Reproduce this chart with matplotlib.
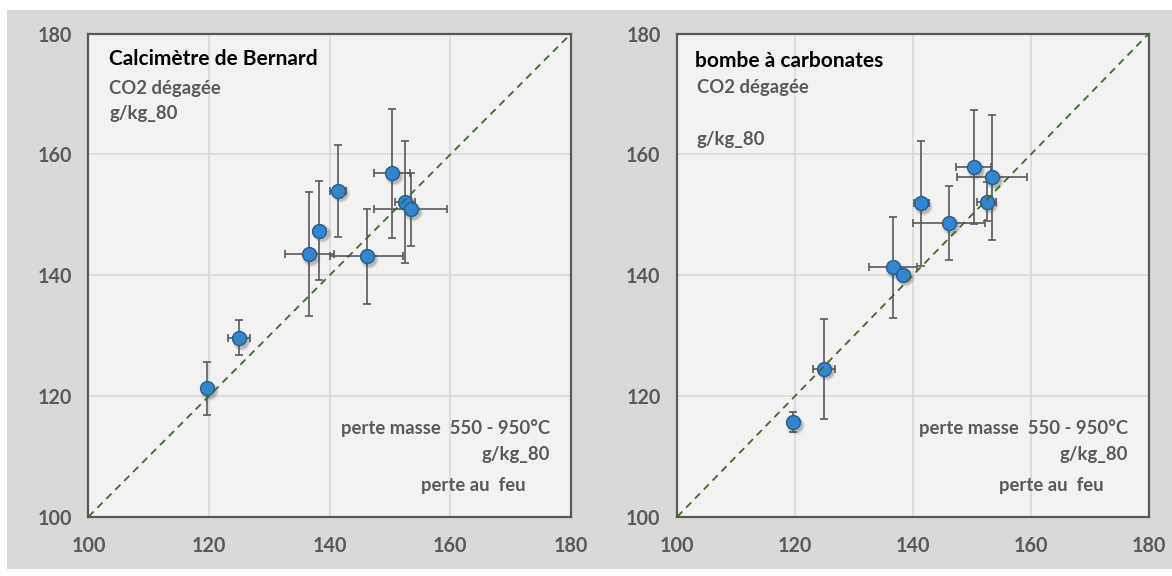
import numpy as np
import matplotlib.pyplot as plt
from matplotlib.patches import Rectangle

plt.rcParams['font.family'] = ['Lato', 'DejaVu Sans']

# perte au feu (g/kg_80), common to both panels
perte_feu = [119.7, 124.9, 136.6, 138.3, 141.4, 146.1, 150.3, 152.5, 153.4]
perte_feu_err = [0.0, 1.8, 4.1, 0.0, 1.3, 6.1, 3.0, 1.6, 6.0]

# CO2 dégagée, calcimètre de Bernard
bernard = [121.3, 129.6, 143.5, 147.4, 154.0, 143.1, 156.9, 152.2, 150.9]
bernard_err = [4.4, 2.9, 10.2, 8.2, 7.6, 7.8, 10.7, 10.1, 6.0]

# CO2 dégagée, bombe à carbonates
bombe = [115.7, 124.5, 141.3, 140.1, 151.9, 148.6, 157.9, 152.2, 156.2]
bombe_err = [1.7, 8.3, 8.4, 0.0, 10.3, 6.1, 9.4, 3.3, 10.4]

ticks = [100, 120, 140, 160, 180]

grey_txt = '#595959'

fig = plt.figure(figsize=(11.72, 5.76), dpi=100)
fig.patch.set_facecolor('white')
fig.patches.append(Rectangle((7 / 1172, 7 / 576), 1 - 7 / 1172, 1 - 17 / 576,
                             transform=fig.transFigure, facecolor='#d9d9d9',
                             edgecolor='none', zorder=-10))

panels = [
    dict(rect=[0.0755, 0.103, 0.4117, 0.8385], y=bernard, yerr=bernard_err,
         title='Calcimètre de Bernard', tx=0.043, ty=0.936, cx=0.043,
         co2y=0.876, unity=0.824),
    dict(rect=[0.5779, 0.103, 0.4022, 0.8385], y=bombe, yerr=bombe_err,
         title='bombe à carbonates', tx=0.0375, ty=0.932, cx=0.041,
         co2y=0.877, unity=0.770),
]

for p in panels:
    ax = fig.add_axes(p['rect'])
    ax.set_facecolor('#f2f2f2')
    ax.set_xlim(100, 180)
    ax.set_ylim(100, 180)
    ax.set_xticks(ticks)
    ax.set_yticks(ticks)
    ax.grid(True, color='#d9d9d9', linewidth=1.2)
    ax.set_axisbelow(True)
    for s in ax.spines.values():
        s.set_color('#595959')
        s.set_linewidth(1.6)
    ax.tick_params(length=0, labelsize=14.2, labelcolor=grey_txt)
    ax.tick_params(axis='x', pad=14)
    ax.tick_params(axis='y', pad=12)
    for lab in ax.get_xticklabels() + ax.get_yticklabels():
        lab.set_fontweight('bold')

    ax.errorbar(perte_feu, p['y'], xerr=perte_feu_err, yerr=p['yerr'],
                fmt='none', ecolor='#595959', elinewidth=1.2, capsize=3,
                capthick=1.2, zorder=3)

    # soft shadow under markers
    for ms, a in [(13.5, 0.08), (12, 0.12), (10.5, 0.18)]:
        ax.plot(np.array(perte_feu) + 0.35, np.array(p['y']) - 0.45, 'o',
                ms=ms, color='#404040', alpha=a, mec='none', zorder=4)
    ax.plot(perte_feu, p['y'], 'o', ms=10, mfc='#3385d0', mec='#2a5a8a',
            mew=1.0, zorder=5)

    ax.plot([100, 180], [100, 180], '--', color='#3d6b26', lw=1.3,
            dashes=(4, 3), zorder=6, clip_on=False)

    ax.text(p['tx'], p['ty'], p['title'], transform=ax.transAxes,
            fontsize=15, fontweight='bold', color='black', va='baseline')
    ax.text(p['cx'], p['co2y'], 'CO2 dégagée', transform=ax.transAxes,
            fontsize=13.3, fontweight='bold', color=grey_txt, va='baseline')
    ax.text(p['cx'], p['unity'], 'g/kg_80', transform=ax.transAxes,
            fontsize=13.3, fontweight='bold', color=grey_txt, va='baseline')

    ax.text(0.957, 0.171, 'perte masse  550 - 950°C', transform=ax.transAxes,
            fontsize=13.3, fontweight='bold', color=grey_txt, va='baseline',
            ha='right')
    ax.text(0.957, 0.118, 'g/kg_80', transform=ax.transAxes,
            fontsize=13.3, fontweight='bold', color=grey_txt, va='baseline',
            ha='right')
    ax.text(0.905, 0.053, 'perte au  feu', transform=ax.transAxes,
            fontsize=13.3, fontweight='bold', color=grey_txt, va='baseline',
            ha='right')

fig.savefig('out.png', dpi=100)
